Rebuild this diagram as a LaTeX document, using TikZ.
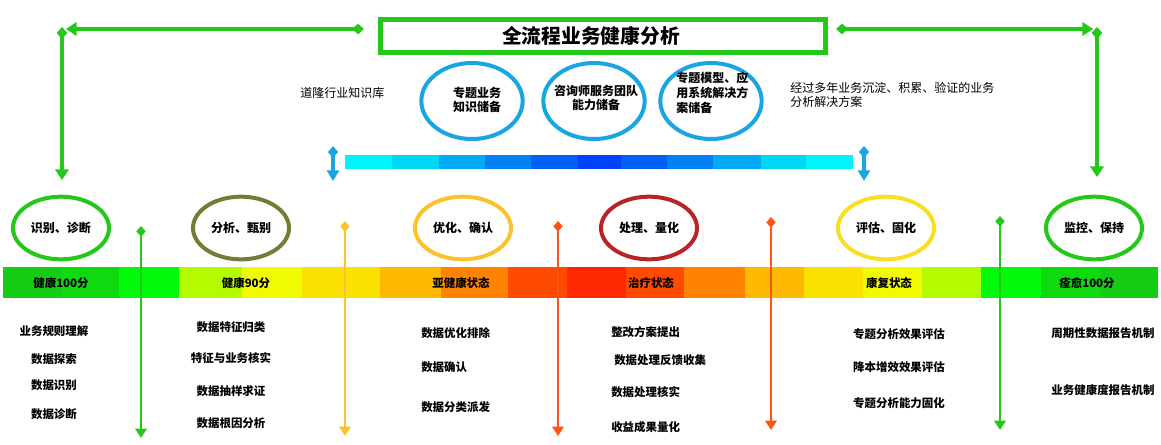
\documentclass[tikz,border=0pt]{standalone}
\usepackage{fontspec}
\setmainfont{Noto Sans CJK SC}
\usetikzlibrary{arrows.meta,shapes.geometric,shadows}

\definecolor{linegreen}{RGB}{35,200,25}
\definecolor{skyblue}{RGB}{25,165,225}
\definecolor{olivering}{RGB}{115,125,55}
\definecolor{amber}{RGB}{250,195,45}
\definecolor{darkred}{RGB}{185,35,40}
\definecolor{lemon}{RGB}{250,222,35}
\definecolor{redorange}{RGB}{255,85,20}
% health bar
\definecolor{g1}{RGB}{20,205,20}
\definecolor{g2}{RGB}{15,218,15}
\definecolor{g3}{RGB}{0,250,10}
\definecolor{y1}{RGB}{180,250,0}
\definecolor{y2}{RGB}{240,250,0}
\definecolor{y3}{RGB}{250,225,0}
\definecolor{o1}{RGB}{255,185,0}
\definecolor{o2}{RGB}{255,130,0}
\definecolor{o3}{RGB}{255,75,0}
\definecolor{r1}{RGB}{255,40,0}
% knowledge bar
\definecolor{b1}{RGB}{0,245,250}
\definecolor{b2}{RGB}{0,215,245}
\definecolor{b3}{RGB}{0,170,245}
\definecolor{b4}{RGB}{0,130,245}
\definecolor{b5}{RGB}{0,95,245}
\definecolor{b6}{RGB}{0,65,250}

\tikzset{
  titlebox/.style={draw=linegreen,line width=3.5pt,fill=white,minimum width=334pt,minimum height=25pt,
    drop shadow={opacity=0.2,shadow xshift=0.8pt,shadow yshift=-1.2pt},font=\fontsize{14.8}{17}\selectfont\bfseries},
  ring/.style={draw=#1,ellipse,line width=3pt,inner sep=0pt,minimum width=72pt,minimum height=47pt,
    font=\fontsize{9}{11}\selectfont\bfseries},
  pool/.style={draw=skyblue,ellipse,line width=3pt,inner sep=0pt,minimum width=76pt,minimum height=57pt},
  pooltext/.style={align=center,inner sep=0pt,font=\fontsize{9}{11}\selectfont\bfseries},
  note/.style={align=left,inner sep=0pt,font=\fontsize{9}{10.5}\selectfont},
  barlabel/.style={inner sep=0pt,font=\fontsize{8.6}{10}\selectfont\bfseries},
  item/.style={inner sep=0pt,font=\fontsize{8.6}{10}\selectfont\bfseries},
  link/.style={line width=2.3pt,draw=#1,{Diamond[length=9pt,width=8pt]}-{Triangle[length=8pt,width=10pt]}},
  stage/.style={line width=2pt,draw=#1,{Diamond[length=8pt,width=7pt]}-{Triangle[length=7pt,width=8.5pt]}},
  tick/.style={line width=2.3pt,draw=#1,{Diamond[length=9pt,width=7.5pt]}-{Triangle[length=8pt,width=9pt]}}
}

\begin{document}
\begin{tikzpicture}[x=0.75pt,y=-0.75pt]
\useasboundingbox (0,0) rectangle (1161,444);

% title and loop back to both ends
\node[titlebox] (title) at (603,36) {全流程业务健康分析\hspace*{18pt}};
\coordinate (tlA) at (364,29);
\coordinate (tlB) at (66,29);
\coordinate (tlC) at (62,27);
\coordinate (tlD) at (62,180);
\coordinate (trA) at (836,29);
\coordinate (trB) at (1093,29);
\coordinate (trC) at (1097,27);
\coordinate (trD) at (1097,177);
\draw[link=linegreen] (tlA) -- (tlB);
\draw[link=linegreen] (tlC) -- (tlD);
\draw[link=linegreen] (trA) -- (trB);
\draw[link=linegreen] (trC) -- (trD);

% knowledge pools
\node[note,anchor=west] (kb) at (300,93) {道隆行业知识库};
\node[pool] (pool1) at (472,101) {};
\node[pool] (pool2) at (594,101) {};
\node[pool] (pool3) at (711,101) {};
\node[pooltext] (ptext1) at (477,100) {专题业务\\知识储备};
\node[pooltext] (ptext2) at (596,98) {咨询师服务团队\\能力储备};
\node[pooltext,align=left,anchor=west] (ptext3) at (676,93) {专题模型、应\\用系统解决方\\案储备};
\node[note,anchor=west] (exp) at (790,95) {经过多年业务沉淀、积累、验证的业务\\分析解决方案};

% knowledge bar
\foreach \xa/\xb/\c in {345/392/b1,392/439/b2,439/485/b3,485/531/b4,531/578/b5,578/621/b6,
  621/667/b5,667/713/b4,713/761/b3,761/806/b2,806/853/b1}
  \fill[\c] (\xa,155) rectangle (\xb,169);
\coordinate (kbA) at (333,146);
\coordinate (kbB) at (333,181);
\coordinate (kbC) at (864,146);
\coordinate (kbD) at (864,181);
\draw[tick=skyblue] (kbA) -- (kbB);
\draw[tick=skyblue] (kbC) -- (kbD);

% stages
\node[ring=linegreen] (s1) at (61,228) {识别、诊断};
\node[ring=olivering] (s2) at (241,228) {分析、甄别};
\node[ring=amber] (s3) at (463,228) {优化、确认};
\node[ring=darkred] (s4) at (649,228) {处理、量化};
\node[ring=lemon] (s5) at (886,228) {评估、固化};
\node[ring=linegreen] (s6) at (1094,228) {监控、保持};

% health bar
\foreach \xa/\xb/\c in {3/61/g1,61/119/g2,119/179/g3,179/242/y1,242/302/y2,302/380/y3,380/441/o1,
  441/508/o2,508/567/o3,567/626/r1,626/684/o3,684/745/o2,745/804/o1,804/863/y3,863/922/y2,
  922/981/y1,981/1041/g3,1041/1100/g2,1100/1158/g1}
  \fill[\c] (\xa,267) rectangle (\xb,298);
\node[barlabel] (h1) at (61,283) {健康100分};
\node[barlabel] (h2) at (246,283) {健康90分};
\node[barlabel] (h3) at (461,283) {亚健康状态};
\node[barlabel] (h4) at (651,283) {治疗状态};
\node[barlabel] (h5) at (889,283) {康复状态};
\node[barlabel] (h6) at (1087,283) {痊愈100分};

% separators
\foreach \x/\ya/\yb/\c [count=\i] in {141/226/438/linegreen,345/221/436/amber,558/221/436/redorange,
  771/217/430/redorange,1000/216/430/linegreen}{
  \coordinate (up\i) at (\x,\ya);
  \coordinate (dn\i) at (\x,\yb);
  \draw[stage=\c] (up\i) -- (dn\i);
}

% tasks
\foreach \t/\y [count=\i] in {业务规则理解/331,数据探索/359,数据识别/385,数据诊断/414}
  \node[item] (ta\i) at (54,\y) {\t};
\foreach \t/\y [count=\i] in {数据特征归类/327,特征与业务核实/358,数据抽样求证/391,数据根因分析/423}
  \node[item] (tb\i) at (231,\y) {\t};
\foreach \t/\y [count=\i] in {数据优化排除/333,数据确认/367,数据分类派发/407}
  \node[item,anchor=west] (tc\i) at (421,\y) {\t};
\foreach \t/\x/\y [count=\i] in {整改方案提出/611/332,数据处理反馈收集/614/360,数据处理核实/611/392,收益成果量化/611/427}
  \node[item,anchor=west] (td\i) at (\x,\y) {\t};
\foreach \t/\y [count=\i] in {专题分析效果评估/334,降本增效效果评估/367,专题分析能力固化/403}
  \node[item] (te\i) at (899,\y) {\t};
\foreach \t/\y [count=\i] in {周期性数据报告机制/333,业务健康度报告机制/390}
  \node[item] (tf\i) at (1103,\y) {\t};
\end{tikzpicture}
\end{document}
